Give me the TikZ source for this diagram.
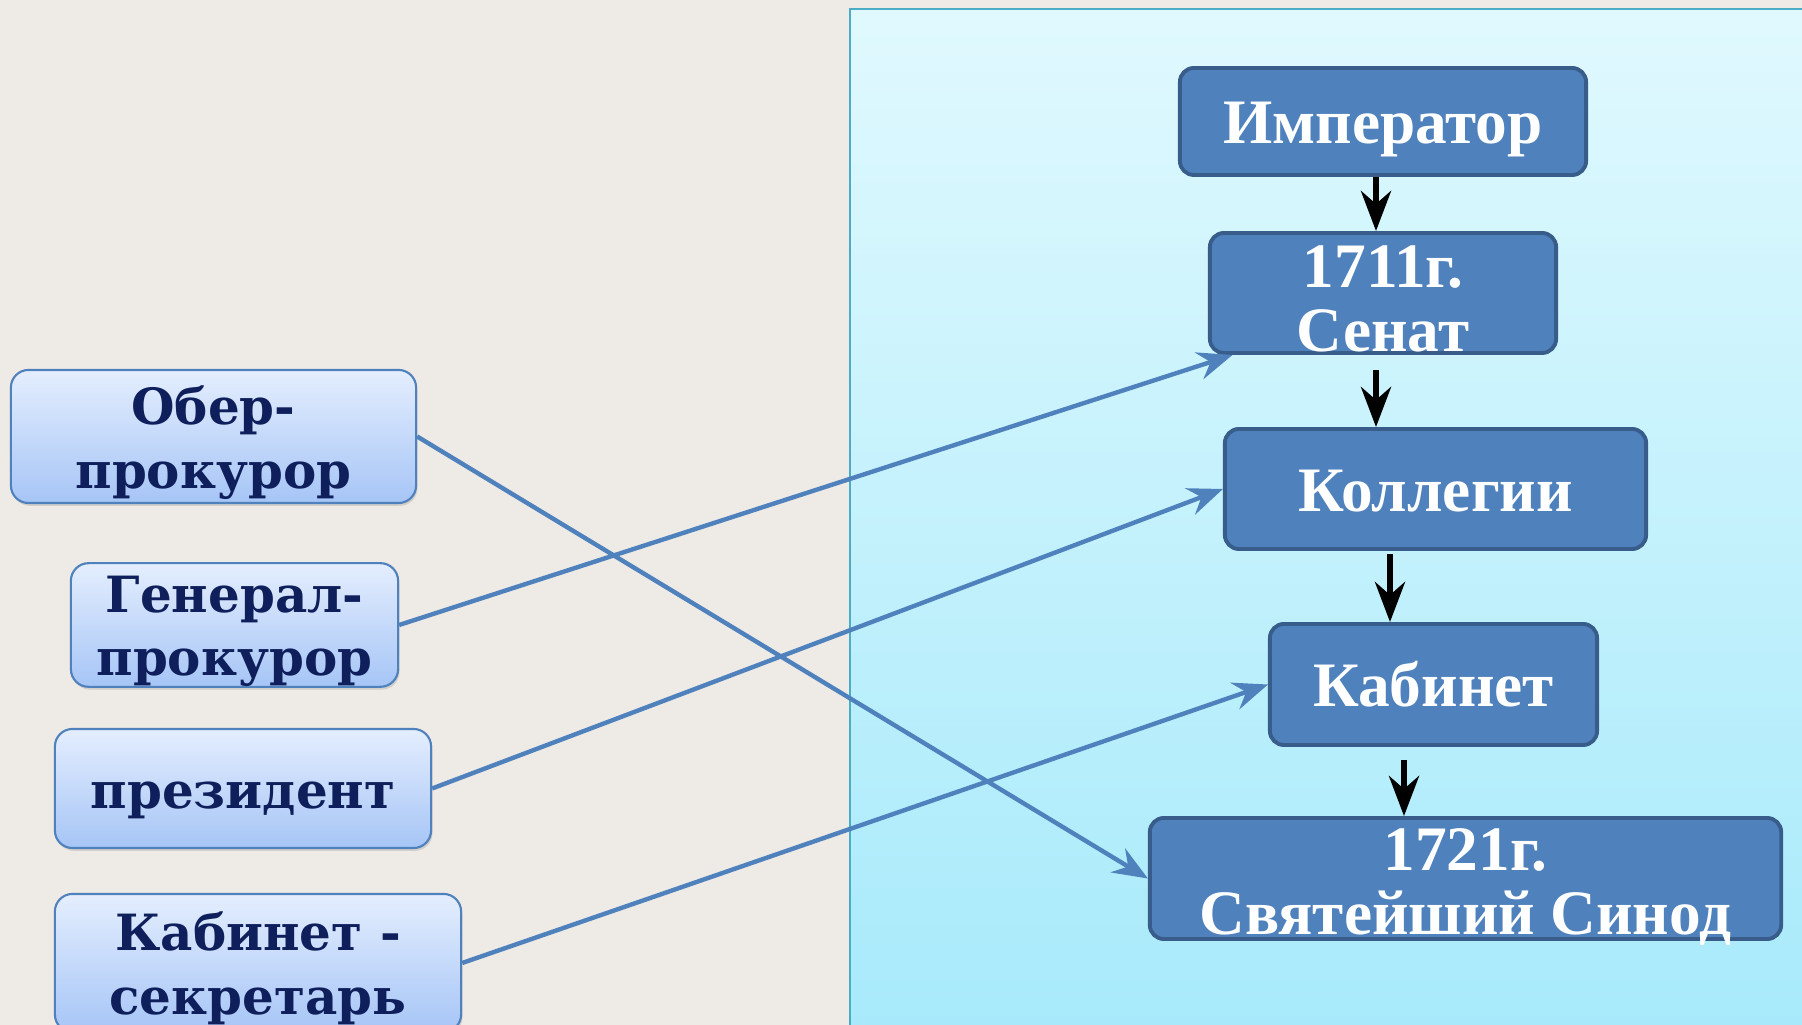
\documentclass[tikz,border=0pt]{standalone}
\usepackage{fontspec}
\setmainfont{Liberation Serif}
\newfontfamily\lfont{DejaVu Serif}
\usetikzlibrary{arrows.meta, calc, shadows}
\tikzset{>=latex}
\definecolor{paper}{HTML}{EEEAE5}
\definecolor{panelTop}{HTML}{E0F9FE}
\definecolor{panelBot}{HTML}{A8EAFB}
\definecolor{panelEdge}{HTML}{4BACC6}
\definecolor{boxblue}{HTML}{4F81BD}
\definecolor{boxedge}{HTML}{385D8A}
\definecolor{navy}{HTML}{0F1F5C}
\definecolor{roleTop}{HTML}{E4EEFE}
\definecolor{roleBot}{HTML}{A6C5F6}
% invisible strut to push a text block down
\newcommand{\pad}[1]{\rule{0pt}{#1}}

\begin{document}
\begin{tikzpicture}[x=0.01cm, y=-0.01cm,
		organ/.style={draw=boxedge, line width=1.1pt, fill=boxblue,
			rounded corners=4pt, text=white, align=center, inner sep=0pt,
			font=\bfseries\fontsize{18}{18.2}\selectfont},
		role/.style={draw=boxblue, line width=0.6pt, top color=roleTop,
			bottom color=roleBot, rounded corners=5pt, text=navy,
			align=center, inner sep=0pt,
			drop shadow={opacity=0.25, shadow xshift=0.4pt, shadow yshift=-0.8pt},
			font=\lfont\bfseries\fontsize{14.2}{18}\selectfont},
		down/.style={-{Stealth[length=4mm, width=3mm, inset=1.3mm]}, line width=1.7pt},
		link/.style={-{Stealth[length=3.5mm, width=2.8mm, inset=1.2mm]}, line width=1.25pt, draw=boxblue}]
	\useasboundingbox (0,0) rectangle (1802,1025);
	\clip (0,0) rectangle (1802,1025);

	% background and panel
	\fill[paper] (0,0) rectangle (1802,1025);
	\fill[top color=panelTop, bottom color=panelBot] (850,9) rectangle (1802,1025);
	\draw[panelEdge, line width=0.6pt] (850,1025) -- (850,9) -- (1802,9);

	% the chain of organs
	\node[organ, minimum width=40.6mm, minimum height=10.7mm, text height=14.5pt, text depth=2pt] (imp) at (1383,121.5) {Император};
	\node[organ, minimum width=34.6mm, minimum height=12mm] (senat) at (1383,293) {\pad{15pt}1711г.\\Сенат};
	\node[organ, minimum width=42.1mm, minimum height=12mm, text height=15pt, text depth=2pt] (koll) at (1435.5,489) {Коллегии};
	\node[organ, minimum width=32.7mm, minimum height=12.1mm] (kab) at (1433.5,684.5) {Кабинет};
	\node[organ, minimum width=63.1mm, minimum height=12.1mm, inner ysep=-4pt] (synod) at (1465.5,878.5) {\pad{17pt}1721г.\\Святейший Синод};

	% the officials
	\node[role, minimum width=40.5mm, minimum height=13.3mm] (ober) at (213.5,436.5) {\pad{14.5pt}Обер-\\прокурор};
	\node[role, minimum width=32.7mm, minimum height=12.2mm] (genpr) at (234.5,625) {\pad{14pt}Генерал-\\прокурор};
	\node[role, minimum width=37.6mm, minimum height=11.9mm, text height=14.6pt, text depth=3.3pt] (pres) at (243,788.5) {президент};
	\node[role, minimum width=40.6mm, minimum height=13.8mm] (kabsec) at (258,963) {\pad{14pt}Кабинет -\\секретарь};

	% subordination
	\draw[down] (imp.south -| 1376,0) -- (senat.north -| 1376,0);
	\draw[down] ($(senat.south -| 1376,0)+(0,15)$) -- (koll.north -| 1376,0);
	\draw[down] ($(koll.south -| 1390,0)+(0,3)$) -- (kab.north -| 1390,0);
	\draw[down] ($(kab.south -| 1404,0)+(0,13)$) -- (synod.north -| 1404,0);

	% who heads what
	\draw[link] (ober.east) -- (synod.west);
	\draw[link] (genpr.east) -- ($(senat.south west)!0.07!(senat.south east)$);
	\draw[link] (pres.east) -- (koll.west);
	\draw[link] (kabsec.east) -- (kab.west);
\end{tikzpicture}
\end{document}
